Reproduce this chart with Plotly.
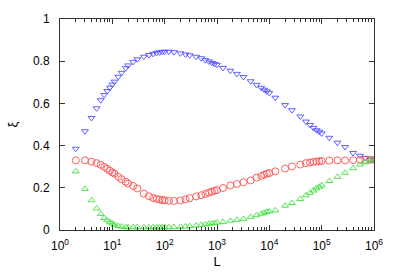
import plotly.graph_objects as go

L = [2, 3, 4, 5, 6, 7, 8, 9,
     10, 11, 13, 15, 18, 20, 25, 30, 40, 50, 60, 70, 80, 90,
     100, 120, 150, 200, 250, 300, 400, 500, 600, 700, 800, 900,
     1000, 1300, 1800, 2400, 3200, 4400, 5700, 7000, 8000, 9000,
     10000, 13000, 20000, 27000, 39000, 50000, 60000, 70000, 80000, 90000,
     100000, 140000, 200000, 280000, 400000, 540000, 680000, 850000, 1000000]

xi_blue = [.385, .468, .531, .577, .615, .640, .659, .675,
           .689, .703, .726, .745, .767, .780, .797, .809, .821, .829, .835, .839, .842, .844,
           .845, .845, .843, .837, .832, .828, .821, .814, .805, .799, .792, .787,
           .783, .768, .755, .740, .725, .705, .688, .674, .665, .657,
           .650, .627, .592, .568, .538, .514, .498, .484, .473, .466,
           .458, .437, .414, .393, .365, .352, .342, .334, .333]

xi_red = [.330, .330, .324, .317, .309, .299, .290, .281,
          .273, .267, .252, .241, .229, .220, .209, .197, .172, .160, .152, .147, .144, .142,
          .141, .138, .138, .140, .145, .151, .159, .165, .171, .177, .182, .186,
          .189, .199, .211, .218, .226, .235, .248, .256, .262, .267,
          .270, .278, .291, .301, .310, .317, .320, .323, .325, .326,
          .327, .329, .330, .330, .331, .332, .332, .333, .333]

xi_green = [.278, .195, .141, .102, .076, .057, .046, .037,
            .031, .025, .019, .016, .014, .013, .013, .013, .013, .013, .013, .013, .013, .013,
            .013, .013, .014, .015, .016, .018, .021, .024, .027, .029, .031, .033,
            .035, .038, .044, .048, .053, .062, .070, .077, .082, .086,
            .088, .093, .115, .128, .147, .164, .176, .187, .197, .205,
            .212, .232, .252, .271, .293, .310, .321, .330, .333]

x_tickvals = [1, 10, 100, 1000, 10000, 100000, 1000000]
x_ticktext = ["10<sup>0</sup>", "10<sup>1</sup>", "10<sup>2</sup>", "10<sup>3</sup>",
              "10<sup>4</sup>", "10<sup>5</sup>", "10<sup>6</sup>"]
y_tickvals = [0, 0.2, 0.4, 0.6, 0.8, 1]
y_ticktext = ["0", "0.2", "0.4", "0.6", "0.8", "1"]
minor_vals = [m * 10 ** k for k in range(6) for m in range(2, 10)]

fig = go.Figure()
fig.add_trace(go.Scatter(x=L, y=xi_blue, mode="markers",
                         marker=dict(symbol="triangle-down-open", size=6, color="#4d4dff",
                                     line=dict(width=0.9)), showlegend=False))
fig.add_trace(go.Scatter(x=L, y=xi_red, mode="markers",
                         marker=dict(symbol="circle-open", size=7, color="#ff4d4d",
                                     line=dict(width=0.9)), showlegend=False))
fig.add_trace(go.Scatter(x=L, y=xi_green, mode="markers",
                         marker=dict(symbol="triangle-up-open", size=6, color="#40e040",
                                     line=dict(width=0.9)), showlegend=False))

axis_common = dict(showline=True, linecolor="#333333", linewidth=1, mirror="ticks",
                   ticks="inside", ticklen=5, tickcolor="#333333", showgrid=False,
                   zeroline=False, tickfont=dict(size=12, color="#000000"))

fig.update_xaxes(type="log", range=[0, 6], tickvals=x_tickvals, ticktext=x_ticktext,
                 ticklabelstandoff=5,
                 minor=dict(ticks="inside", ticklen=3, tickcolor="#333333", tickvals=minor_vals,
                            showgrid=False),
                 title=dict(text="L", font=dict(size=13, color="#000000"), standoff=4),
                 **axis_common)
fig.update_yaxes(range=[0, 1], tickvals=y_tickvals, ticktext=y_ticktext,
                 ticklabelstandoff=7,
                 title=dict(text="ξ", font=dict(size=13, color="#000000"), standoff=12),
                 **axis_common)

fig.update_layout(width=399, height=279, margin=dict(l=59.5, r=25.3, t=16, b=45),
                  paper_bgcolor="white", plot_bgcolor="white",
                  font=dict(family="Liberation Sans, Arial, sans-serif", size=12, color="#000000"))

fig.write_html("out.html", config={"displayModeBar": False},
               post_script="document.body.style.margin='0';")
